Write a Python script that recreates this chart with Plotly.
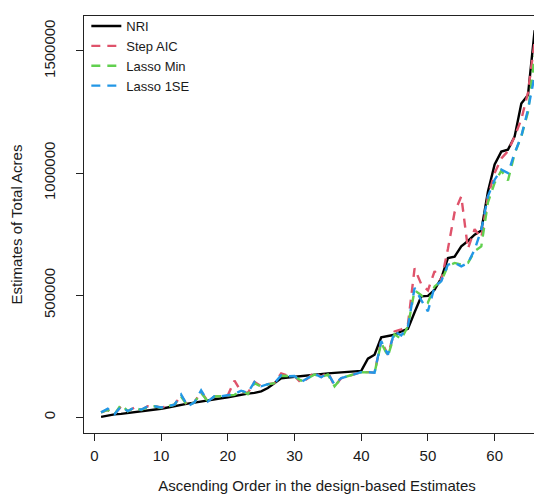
import plotly.graph_objects as go

order = list(range(1, 67))

nri = [2000, 8000, 12000, 14000, 17000, 22000, 25000, 28000, 30000, 35000,
       40000, 46000, 52000, 56000, 60000, 65000, 70000, 74000, 78000, 82000,
       88000, 93000, 97000, 100000, 106000, 120000, 140000, 160000, 163000, 166000,
       170000, 174000, 176000, 178000, 180000, 182000, 184000, 186000, 187000, 190000,
       240000, 256000, 328000, 334000, 338000, 352000, 362000, 430000, 495000, 497000,
       522000, 570000, 652000, 658000, 700000, 722000, 748000, 765000, 925000, 1035000,
       1088000, 1096000, 1150000, 1285000, 1320000, 1585000]

step_aic = [20000, 30000, 12000, 45000, 25000, 40000, 30000, 45000, 45000, 40000,
            45000, 52000, 90000, 45000, 62000, 105000, 65000, 85000, 86000, 90000,
            150000, 105000, 100000, 145000, 127000, 136000, 140000, 180000, 170000, 168000,
            140000, 160000, 185000, 165000, 185000, 127000, 160000, 168000, 177000, 185000,
            185000, 183000, 312000, 256000, 352000, 360000, 380000, 610000, 545000, 520000,
            598000, 560000, 690000, 840000, 905000, 690000, 770000, 735000, 905000, 1000000,
            1060000, 1090000, 1150000, 1220000, 1330000, 1540000]

lasso_min = [20000, 30000, 12000, 52000, 25000, 40000, 30000, 42000, 45000, 38000,
             45000, 52000, 85000, 45000, 62000, 100000, 65000, 85000, 86000, 90000,
             92000, 110000, 95000, 140000, 125000, 135000, 140000, 170000, 168000, 168000,
             150000, 160000, 175000, 165000, 175000, 127000, 160000, 170000, 177000, 185000,
             185000, 183000, 305000, 250000, 340000, 320000, 373000, 520000, 500000, 470000,
             536000, 557000, 620000, 632000, 625000, 632000, 680000, 700000, 880000, 960000,
             1010000, 970000, 1080000, 1150000, 1250000, 1480000]

lasso_1se = [20000, 35000, 12000, 45000, 25000, 41000, 31000, 45000, 45000, 40000,
             45000, 52000, 93000, 45000, 61000, 110000, 65000, 86000, 86000, 90000,
             95000, 109000, 100000, 145000, 127000, 136000, 140000, 172000, 168000, 169000,
             145000, 161000, 178000, 164000, 180000, 135000, 161000, 168000, 177000, 185000,
             185000, 183000, 312000, 256000, 352000, 335000, 373000, 530000, 480000, 434000,
             536000, 557000, 625000, 632000, 618000, 632000, 686000, 768000, 905000, 973000,
             1014000, 1000000, 1082000, 1151000, 1260000, 1400000]

y_ticks = [0, 500000, 1000000, 1500000]
y_tick_labels = ["0", "500000", "1000000", "1500000"]
x_ticks = [0, 10, 20, 30, 40, 50, 60]

series = [
    ("NRI", nri, "black", "solid"),
    ("Step AIC", step_aic, "#DF536B", "9px,7px"),
    ("Lasso Min", lasso_min, "#61D04F", "9px,7px"),
    ("Lasso 1SE", lasso_1se, "#2297E6", "9px,7px"),
]

fig = go.Figure()
for name, vals, col, dash in series:
    fig.add_trace(go.Scatter(x=order, y=vals, mode="lines", name=name,
                             line=dict(color=col, width=2.4, dash=dash)))

font = "Liberation Sans, Arial, sans-serif"
fig.update_layout(
    width=542, height=495,
    margin=dict(l=74, r=0, t=8, b=70),
    paper_bgcolor="white", plot_bgcolor="white",
    font=dict(family=font, size=15, color="#1a1a1a"),
    showlegend=True,
    legend=dict(x=0.005, y=1.012, xanchor="left", yanchor="top",
                bgcolor="rgba(0,0,0,0)", font=dict(size=13, color="#1a1a1a"),
                tracegroupgap=0, itemwidth=30),
    xaxis=dict(range=[-1.56, 68.3], tickvals=x_ticks, showgrid=False, zeroline=False,
               showline=True, linecolor="#222222", linewidth=1, mirror=True,
               ticks="outside", ticklen=7, tickcolor="#222222", ticklabelstandoff=2,
               tickfont=dict(size=15),
               title=dict(text="Ascending Order in the design-based Estimates",
                          font=dict(size=15), standoff=17)),
    yaxis=dict(range=[-64300, 1643300], tickvals=y_ticks, ticktext=y_tick_labels,
               tickangle=-90, showgrid=False, zeroline=False,
               showline=True, linecolor="#222222", linewidth=1,
               ticks="outside", ticklen=7, tickcolor="#222222", ticklabelstandoff=15,
               tickfont=dict(size=15),
               title=dict(text="Estimates of Total Acres", font=dict(size=15), standoff=22)),
)

fig.write_html("out.html")
